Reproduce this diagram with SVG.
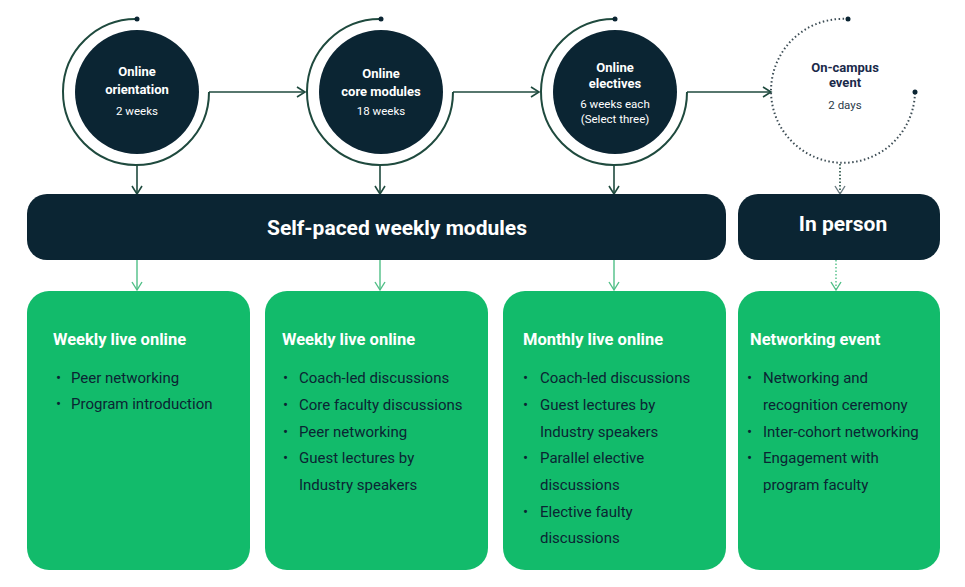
<svg xmlns="http://www.w3.org/2000/svg" width="965" height="587" viewBox="0 0 965 587">
<style>
.dark{fill:#0b2533}
.green{fill:#12bb6b}
.ring{fill:none;stroke:#1f4a3e;stroke-width:2}
.dotring{fill:none;stroke:#3d4d55;stroke-width:2;stroke-dasharray:1.5 2.5}
.ln{fill:none;stroke:#1f4a3e;stroke-width:1.6}
.gl{fill:none;stroke:#4fbf86;stroke-width:1.4}
.ct{font-family:Roboto,"Liberation Sans",sans-serif;fill:#fff;text-anchor:middle}
.cb{font-weight:bold;font-size:13px}
.cs{font-size:11.5px}
.bar{font-family:Roboto,"Liberation Sans",sans-serif;font-weight:bold;font-size:21px;fill:#fff;text-anchor:middle}
.ti{font-family:Roboto,"Liberation Sans",sans-serif;font-weight:bold;font-size:16.5px;fill:#fff}
.bl{font-family:Roboto,"Liberation Sans",sans-serif;font-size:15px;fill:#0b2533}
</style>
<defs>
<marker id="ah" markerWidth="12" markerHeight="12" refX="10" refY="6" orient="auto" markerUnits="userSpaceOnUse"><path d="M2,1 L10,6 L2,11" fill="none" stroke="#1f4a3e" stroke-width="1.6"/></marker>
<marker id="ahg" markerWidth="12" markerHeight="12" refX="10" refY="6" orient="auto" markerUnits="userSpaceOnUse"><path d="M2,1 L10,6 L2,11" fill="none" stroke="#4fbf86" stroke-width="1.4"/></marker>
<marker id="ahd" markerWidth="12" markerHeight="12" refX="10" refY="6" orient="auto" markerUnits="userSpaceOnUse"><path d="M2,1 L10,6 L2,11" fill="none" stroke="#6a7a80" stroke-width="1.4"/></marker>
</defs>
<rect width="965" height="587" fill="#fff"/>
<g id="connectors">
<path class="ln" d="M209,92 H305" marker-end="url(#ah)"/>
<path class="ln" d="M453,92 H539" marker-end="url(#ah)"/>
<path class="ln" d="M687,92 H771" marker-end="url(#ah)"/>
<path class="ln" d="M137,164 V194" marker-end="url(#ah)"/>
<path class="ln" d="M380,164 V194" marker-end="url(#ah)"/>
<path class="ln" d="M614,164 V194" marker-end="url(#ah)"/>
<path class="ln" d="M840,164 V194" stroke="#6a7a80" stroke-dasharray="1.5 2" marker-end="url(#ahd)"/>
<path class="gl" d="M137,260 V290" marker-end="url(#ahg)"/>
<path class="gl" d="M380,260 V290" marker-end="url(#ahg)"/>
<path class="gl" d="M614,260 V290" marker-end="url(#ahg)"/>
<path class="gl" d="M836,260 V290" stroke-dasharray="1.5 2" marker-end="url(#ahg)"/>
</g>
<g id="n1">
<path class="ring" d="M137,19 A73,73 0 1 0 209,92"/><circle cx="137" cy="19" r="2.5" fill="#0b2533"/>
<circle class="dark" cx="137" cy="92" r="62"/>
<text class="ct cb" x="137" y="76">Online</text><text class="ct cb" x="137" y="94">orientation</text><text class="ct cs" x="137" y="115">2 weeks</text>
</g>
<g id="n2">
<path class="ring" d="M381,19 A73,73 0 1 0 453,92"/><circle cx="381" cy="19" r="2.5" fill="#0b2533"/>
<circle class="dark" cx="381" cy="92" r="62"/>
<text class="ct cb" x="381" y="78">Online</text><text class="ct cb" x="381" y="96">core modules</text><text class="ct cs" x="381" y="115">18 weeks</text>
</g>
<g id="n3">
<path class="ring" d="M615,19 A73,73 0 1 0 687,92"/><circle cx="615" cy="19" r="2.5" fill="#0b2533"/>
<circle class="dark" cx="615" cy="92" r="62"/>
<text class="ct cb" x="615" y="72">Online</text><text class="ct cb" x="615" y="88">electives</text><text class="ct cs" x="615" y="108">6 weeks each</text><text class="ct cs" x="615" y="123">(Select three)</text>
</g>
<g id="n4">
<path class="dotring" d="M848,19 A72,72 0 1 0 915,92"/><circle cx="848" cy="19" r="2.5" fill="#0b2533"/><circle cx="915" cy="92" r="2.5" fill="#0b2533"/>
<text class="ct cb" x="845" y="72" fill="#0b2533" style="fill:#1a2a4a">On-campus</text><text class="ct cb" x="845" y="87" style="fill:#1a2a4a">event</text><text class="ct cs" x="845" y="109" style="fill:#2a3a4a">2 days</text>
</g>
<g id="bar1"><rect class="dark" x="27" y="194" width="699" height="66" rx="20"/><text class="bar" x="397" y="235">Self-paced weekly modules</text></g>
<g id="bar2"><rect class="dark" x="738" y="194" width="202" height="66" rx="20"/><text class="bar" x="843" y="231">In person</text></g>
<g id="b1"><rect class="green" x="27" y="291" width="223" height="279" rx="22"/>
<text class="ti" x="53" y="345">Weekly live online</text>
<text class="bl" x="56" y="383">•<tspan x="71">Peer networking</tspan></text>
<text class="bl" x="56" y="409">•<tspan x="71">Program introduction</tspan></text>
</g>
<g id="b2"><rect class="green" x="265" y="291" width="223" height="279" rx="22"/>
<text class="ti" x="282" y="345">Weekly live online</text>
<text class="bl" x="283" y="383">•<tspan x="299">Coach-led discussions</tspan></text>
<text class="bl" x="283" y="410">•<tspan x="299">Core faculty discussions</tspan></text>
<text class="bl" x="283" y="437">•<tspan x="299">Peer networking</tspan></text>
<text class="bl" x="283" y="463">•<tspan x="299">Guest lectures by</tspan></text>
<text class="bl" x="299" y="490">Industry speakers</text>
</g>
<g id="b3"><rect class="green" x="503" y="291" width="223" height="279" rx="22"/>
<text class="ti" x="523" y="345">Monthly live online</text>
<text class="bl" x="523" y="383">•<tspan x="540">Coach-led discussions</tspan></text>
<text class="bl" x="523" y="410">•<tspan x="540">Guest lectures by</tspan></text>
<text class="bl" x="540" y="437">Industry speakers</text>
<text class="bl" x="523" y="463">•<tspan x="540">Parallel elective</tspan></text>
<text class="bl" x="540" y="490">discussions</text>
<text class="bl" x="523" y="517">•<tspan x="540">Elective faulty</tspan></text>
<text class="bl" x="540" y="543">discussions</text>
</g>
<g id="b4"><rect class="green" x="738" y="291" width="202" height="279" rx="22"/>
<text class="ti" x="750" y="345">Networking event</text>
<text class="bl" x="747" y="383">•<tspan x="763">Networking and</tspan></text>
<text class="bl" x="763" y="410">recognition ceremony</text>
<text class="bl" x="747" y="437">•<tspan x="763">Inter-cohort networking</tspan></text>
<text class="bl" x="747" y="463">•<tspan x="763">Engagement with</tspan></text>
<text class="bl" x="763" y="490">program faculty</text>
</g>
</svg>
